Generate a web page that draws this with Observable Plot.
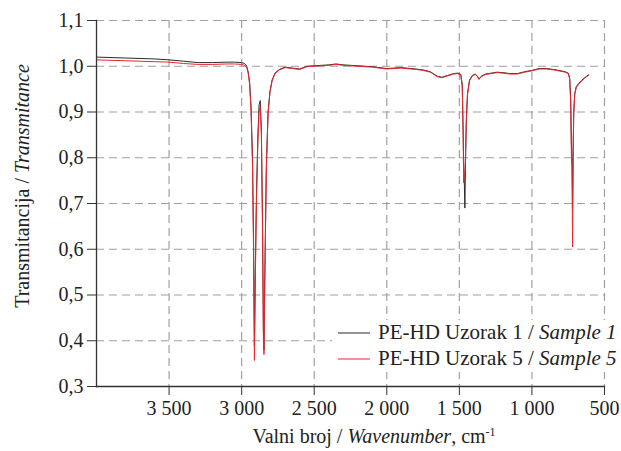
<!DOCTYPE html>
<html>
<head>
<meta charset="utf-8">
<script src="https://cdn.jsdelivr.net/npm/d3@7"></script>
<script src="https://cdn.jsdelivr.net/npm/@observablehq/plot@0.6"></script>
<style>
  html, body { margin: 0; padding: 0; background: #fff; }
  #chart { position: relative; width: 621px; height: 451px; }
</style>
</head>
<body>
<div id="chart"></div>
<script>
const wavenumber = [4000, 3900, 3800, 3700, 3600, 3500, 3400, 3300, 3200, 3100, 3050, 3000, 2980, 2965, 2955, 2945, 2935, 2925, 2918, 2912, 2906, 2898, 2888, 2880, 2872, 2864, 2856, 2850, 2846, 2840, 2830, 2818, 2805, 2790, 2770, 2740, 2700, 2650, 2600, 2550, 2500, 2400, 2350, 2300, 2200, 2100, 2000, 1900, 1800, 1750, 1700, 1650, 1620, 1580, 1540, 1510, 1490, 1480, 1474, 1470, 1466, 1462, 1458, 1452, 1444, 1430, 1410, 1390, 1375, 1365, 1350, 1320, 1280, 1240, 1200, 1150, 1100, 1050, 1000, 950, 900, 850, 800, 770, 750, 740, 733, 728, 724, 720, 716, 712, 705, 695, 680, 660, 640, 620, 610];

const sample1 = [1.020, 1.019, 1.018, 1.017, 1.016, 1.014, 1.011, 1.008, 1.008, 1.009, 1.009, 1.008, 1.006, 1.000, 0.988, 0.965, 0.910, 0.800, 0.620, 0.390, 0.550, 0.720, 0.850, 0.915, 0.925, 0.860, 0.660, 0.420, 0.380, 0.550, 0.780, 0.900, 0.945, 0.970, 0.985, 0.993, 0.998, 0.996, 0.994, 1.000, 1.001, 1.003, 1.005, 1.003, 1.001, 0.999, 0.995, 0.997, 0.994, 0.992, 0.988, 0.978, 0.976, 0.980, 0.984, 0.985, 0.982, 0.960, 0.860, 0.780, 0.750, 0.690, 0.780, 0.880, 0.940, 0.970, 0.980, 0.983, 0.978, 0.972, 0.978, 0.983, 0.985, 0.987, 0.986, 0.984, 0.984, 0.988, 0.991, 0.995, 0.995, 0.993, 0.990, 0.988, 0.985, 0.975, 0.930, 0.830, 0.800, 0.690, 0.820, 0.900, 0.940, 0.955, 0.962, 0.968, 0.974, 0.979, 0.981];

const sample5 = [1.014, 1.013, 1.012, 1.011, 1.010, 1.009, 1.006, 1.004, 1.004, 1.005, 1.005, 1.004, 1.002, 0.997, 0.985, 0.960, 0.900, 0.780, 0.600, 0.357, 0.530, 0.700, 0.835, 0.900, 0.912, 0.850, 0.640, 0.400, 0.370, 0.540, 0.770, 0.895, 0.942, 0.968, 0.984, 0.992, 0.997, 0.995, 0.993, 0.999, 1.000, 1.002, 1.004, 1.002, 1.000, 0.998, 0.994, 0.996, 0.993, 0.991, 0.987, 0.977, 0.975, 0.979, 0.983, 0.984, 0.980, 0.955, 0.850, 0.745, 0.760, 0.770, 0.800, 0.880, 0.938, 0.968, 0.979, 0.982, 0.977, 0.971, 0.977, 0.982, 0.984, 0.986, 0.985, 0.983, 0.983, 0.987, 0.990, 0.994, 0.994, 0.992, 0.989, 0.987, 0.984, 0.972, 0.920, 0.800, 0.780, 0.605, 0.800, 0.895, 0.938, 0.953, 0.960, 0.967, 0.973, 0.978, 0.980];

const xTicks = [3500, 3000, 2500, 2000, 1500, 1000, 500];
const yTicks = [0.3, 0.4, 0.5, 0.6, 0.7, 0.8, 0.9, 1.0, 1.1];
const seriesLabels = [["PE-HD Uzorak 1 / ", "Sample 1"], ["PE-HD Uzorak 5 / ", "Sample 5"]];
const seriesColors = ["#2b2b2b", "#e8262e"];

const data1 = wavenumber.map((w, i) => ({w, t: sample1[i]}));
const data5 = wavenumber.map((w, i) => ({w, t: sample5[i]}));

const fmtX = d => d >= 1000 ? d3.format(",")(d).replace(",", " ") : String(d);
const fmtY = d => d.toFixed(1).replace(".", ",");

const font = "'Liberation Serif', 'DejaVu Serif', serif";
const fs = 20;

const chart = Plot.plot({
  width: 621,
  height: 451,
  marginTop: 20,
  marginRight: 17,
  marginBottom: 65,
  marginLeft: 96,
  style: {fontFamily: font, fontSize: fs + "px", color: "#222", background: "#fff"},
  x: {domain: [4000, 500]},
  y: {domain: [0.3, 1.1]},
  marks: [
    Plot.gridX(xTicks, {stroke: "#a0a0a0", strokeOpacity: 1, strokeDasharray: "8,5", strokeWidth: 1.2}),
    Plot.gridY(yTicks, {stroke: "#a0a0a0", strokeOpacity: 1, strokeDasharray: "8,5", strokeWidth: 1.2}),
    Plot.line(data1, {x: "w", y: "t", stroke: seriesColors[0], strokeWidth: 1}),
    Plot.line(data5, {x: "w", y: "t", stroke: seriesColors[1], strokeWidth: 1}),
    Plot.frame({anchor: "left", stroke: "#333", strokeWidth: 1.3}),
    Plot.frame({anchor: "bottom", stroke: "#333", strokeWidth: 1.3}),
    Plot.axisX(xTicks, {tickFormat: fmtX, tickSize: 9, tickPadding: 5, label: null, fontSize: fs, stroke: "#333"}),
    Plot.axisY(yTicks, {tickFormat: fmtY, tickSize: 9, tickPadding: 4, label: null, fontSize: fs, stroke: "#333"})
  ]
});

const svg = d3.select(chart);
// x axis label
const xl = svg.append("text")
  .attr("x", 374).attr("y", 443)
  .attr("text-anchor", "middle")
  .attr("fill", "#222")
  .style("font-family", font).style("font-size", fs + "px");
xl.append("tspan").text("Valni broj / ");
xl.append("tspan").attr("font-style", "italic").text("Wavenumber");
xl.append("tspan").text(", cm");
xl.append("tspan").attr("dy", -7).attr("font-size", "12px").text("-1");

// y axis label
const yl = svg.append("text")
  .attr("transform", "translate(29,186) rotate(-90)")
  .attr("text-anchor", "middle")
  .attr("fill", "#222")
  .style("font-family", font).style("font-size", fs + "px");
yl.append("tspan").text("Transmitancija / ");
yl.append("tspan").attr("font-style", "italic").text("Transmitance");

// legend
const lg = svg.append("g").attr("text-anchor", "start");
lg.append("rect").attr("x", 332).attr("y", 320).attr("width", 289).attr("height", 52).attr("fill", "#fff");
seriesLabels.forEach((lab, i) => {
  const y = 333 + i * 26;
  lg.append("line").attr("x1", 338).attr("x2", 370).attr("y1", y).attr("y2", y)
    .attr("stroke", seriesColors[i]).attr("stroke-width", 1);
  const t = lg.append("text").attr("x", 378).attr("y", y + 6)
    .attr("text-anchor", "start")
    .attr("fill", "#222")
    .style("font-family", font).style("font-size", "21px");
  t.append("tspan").text(lab[0]);
  t.append("tspan").attr("font-style", "italic").text(lab[1]);
});

document.getElementById("chart").appendChild(chart);
</script>
</body>
</html>
